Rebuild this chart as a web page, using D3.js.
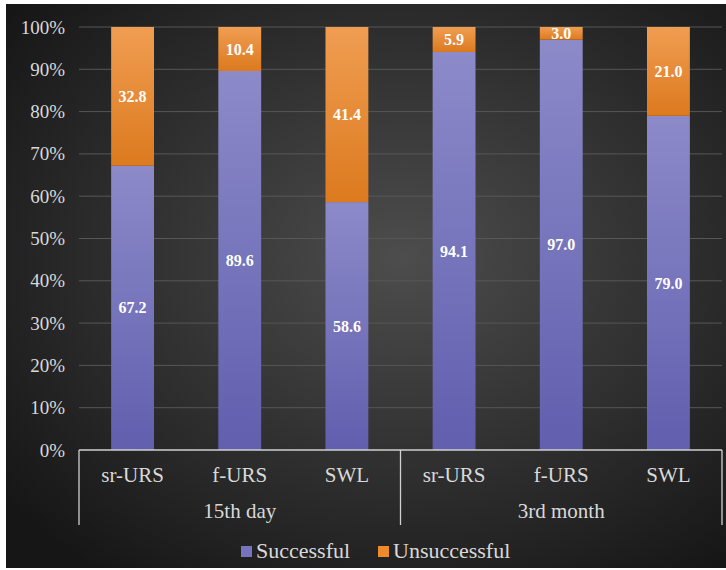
<!DOCTYPE html>
<html><head><meta charset="utf-8">
<script src="https://cdn.jsdelivr.net/npm/d3@7"></script>
<style>html,body{margin:0;padding:0;background:#fff;}
svg text{font-family:"Liberation Serif","Times New Roman",Tinos,"DejaVu Serif",serif;}</style>
</head><body>
<svg id="c" width="726" height="570"></svg>
<script>
const groups = ["15th day", "3rd month"];
const methods = ["sr-URS", "f-URS", "SWL"];
const successful = [67.2, 89.6, 58.6, 94.1, 97.0, 79.0];
const unsuccessful = [32.8, 10.4, 41.4, 5.9, 3.0, 21.0];
const yTicks = [0, 10, 20, 30, 40, 50, 60, 70, 80, 90, 100];
const seriesNames = ["Successful", "Unsuccessful"];

(function(){
const svg = d3.select("#c");
const defs = svg.append("defs");
const bg = defs.append("radialGradient").attr("id","bg").attr("cx","55%").attr("cy","45%").attr("r","70%");
bg.append("stop").attr("offset","0%").attr("stop-color","#4d4d4d");
bg.append("stop").attr("offset","100%").attr("stop-color","#161616");
const gp = defs.append("linearGradient").attr("id","gp").attr("x1",0).attr("y1",0).attr("x2",0).attr("y2",1);
gp.append("stop").attr("offset","0%").attr("stop-color","#8c8ac9");
gp.append("stop").attr("offset","100%").attr("stop-color","#615fae");
const go = defs.append("linearGradient").attr("id","go").attr("x1",0).attr("y1",0).attr("x2",0).attr("y2",1);
go.append("stop").attr("offset","0%").attr("stop-color","#f09d52");
go.append("stop").attr("offset","100%").attr("stop-color","#dc7a1e");

svg.append("rect").attr("x",6).attr("y",4).attr("width",720).attr("height",564).attr("fill","url(#bg)");

const pLeft = 79, pRight = 722, pTop = 27, pBottom = 450;
const cats = [];
groups.forEach(g => methods.forEach(m => cats.push(g + "|" + m)));
const x = d3.scaleBand().domain(cats).range([pLeft, pRight]).paddingInner(0.6).paddingOuter(0.3);
const y = d3.scaleLinear().domain([0, 100]).range([pBottom, pTop]);

svg.append("g").selectAll("line").data(yTicks.slice(1)).join("line")
  .attr("x1", pLeft).attr("x2", pRight).attr("y1", d => y(d)).attr("y2", d => y(d))
  .attr("stroke", "#575757").attr("stroke-width", 1);

const yAxis = d3.axisLeft(y).tickValues(yTicks).tickFormat(d => d + "%").tickSize(0).tickPadding(14);
const ya = svg.append("g").attr("transform", `translate(${pLeft},0)`).call(yAxis);
ya.attr("font-family", null).attr("font-size", null);
ya.select(".domain").remove();
ya.selectAll("text").attr("fill", "#d9d9d9").style("font-size", "19px");

const data = cats.map((c, i) => ({c, s: successful[i], u: unsuccessful[i]}));
const bars = svg.append("g");
bars.selectAll("rect.s").data(data).join("rect").attr("class","s")
  .attr("x", d => x(d.c)).attr("width", x.bandwidth())
  .attr("y", d => y(d.s)).attr("height", d => y(0) - y(d.s)).attr("fill", "url(#gp)");
bars.selectAll("rect.u").data(data).join("rect").attr("class","u")
  .attr("x", d => x(d.c)).attr("width", x.bandwidth())
  .attr("y", d => y(d.s + d.u)).attr("height", d => y(d.s) - y(d.s + d.u)).attr("fill", "url(#go)");

const lab = svg.append("g").style("font-size", "16px").style("font-weight", "bold")
  .attr("fill", "#fff").attr("text-anchor", "middle");
lab.selectAll("text.s").data(data).join("text").attr("class","s")
  .attr("x", d => x(d.c) + x.bandwidth()/2).attr("y", d => y(d.s/2)).attr("dy", "0.35em")
  .text(d => d.s.toFixed(1));
lab.selectAll("text.u").data(data).join("text").attr("class","u")
  .attr("x", d => x(d.c) + x.bandwidth()/2).attr("y", d => y(d.s + d.u/2)).attr("dy", "0.35em")
  .text(d => d.u.toFixed(1));

const ax = svg.append("g").attr("stroke", "#d0d0d0").attr("stroke-width", 1.3);
ax.append("line").attr("x1", pLeft).attr("x2", pRight).attr("y1", pBottom).attr("y2", pBottom);
const groupW = (pRight - pLeft) / groups.length;
d3.range(groups.length + 1).forEach(i => {
  const gx = pLeft + i * groupW;
  ax.append("line").attr("x1", gx).attr("x2", gx).attr("y1", pBottom).attr("y2", 525);
});
const xt = svg.append("g").style("font-size", "21px").attr("fill", "#d9d9d9").attr("text-anchor","middle");
xt.selectAll("text.m").data(cats).join("text").attr("class","m")
  .attr("x", d => x(d) + x.bandwidth()/2).attr("y", 482).text(d => d.split("|")[1]);
xt.selectAll("text.g").data(groups).join("text").attr("class","g")
  .attr("x", (d, i) => pLeft + (i + 0.5) * groupW).attr("y", 518).text(d => d);

const leg = svg.append("g");
const legItems = [{n: seriesNames[0], c: "#7674bd", x: 241}, {n: seriesNames[1], c: "#ee8a2a", x: 378}];
legItems.forEach(it => {
  leg.append("rect").attr("x", it.x).attr("y", 546).attr("width", 11).attr("height", 11).attr("fill", it.c);
  leg.append("text").attr("x", it.x + 15).attr("y", 558).text(it.n)
    .style("font-size", "22px").attr("fill", "#d9d9d9");
});
})();
</script>
</body></html>
